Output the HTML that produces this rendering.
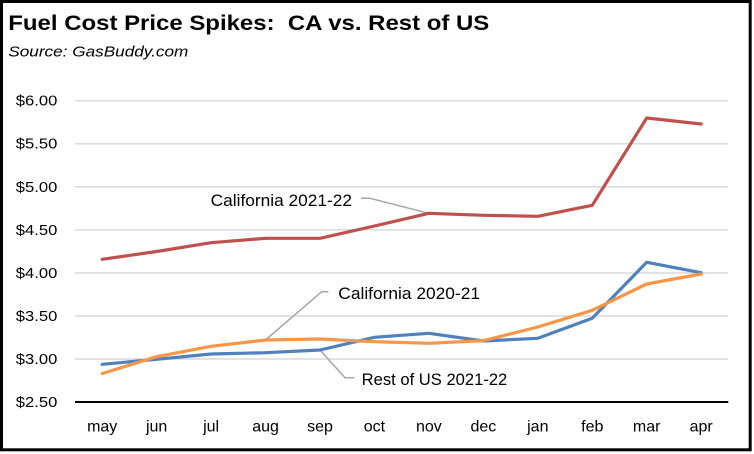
<!DOCTYPE html>
<html><head><meta charset="utf-8"><style>
html,body{margin:0;padding:0;background:#fff;}
svg{display:block;}
text{font-family:"Liberation Sans",Arial,sans-serif;fill:#000;}
</style></head><body>
<svg width="754" height="454" viewBox="0 0 754 454" xmlns="http://www.w3.org/2000/svg">
<rect x="0" y="0" width="754" height="454" fill="#fff"/>
<rect x="1.5" y="1.5" width="748.7" height="448.3" fill="none" stroke="#000" stroke-width="3"/>
<text x="8.3" y="30" font-size="21.5" font-weight="bold" textLength="481" lengthAdjust="spacingAndGlyphs">Fuel Cost Price Spikes:&#160; CA vs. Rest of US</text>
<text x="8.3" y="56.5" font-size="15" font-style="italic" textLength="180" lengthAdjust="spacingAndGlyphs">Source: GasBuddy.com</text>
<g stroke="#d9d9d9" stroke-width="1.5">
<line x1="75" y1="100.7" x2="728" y2="100.7"/>
<line x1="75" y1="143.7" x2="728" y2="143.7"/>
<line x1="75" y1="186.8" x2="728" y2="186.8"/>
<line x1="75" y1="229.9" x2="728" y2="229.9"/>
<line x1="75" y1="273" x2="728" y2="273"/>
<line x1="75" y1="316" x2="728" y2="316"/>
<line x1="75" y1="359" x2="728" y2="359"/>
</g>
<line x1="75" y1="402" x2="728.3" y2="402" stroke="#000" stroke-width="2"/>
<g font-size="14.5" text-anchor="end">
<text x="57.3" y="105.7" textLength="41.5" lengthAdjust="spacingAndGlyphs">$6.00</text>
<text x="57.3" y="148.7" textLength="41.5" lengthAdjust="spacingAndGlyphs">$5.50</text>
<text x="57.3" y="191.8" textLength="41.5" lengthAdjust="spacingAndGlyphs">$5.00</text>
<text x="57.3" y="234.9" textLength="41.5" lengthAdjust="spacingAndGlyphs">$4.50</text>
<text x="57.3" y="278" textLength="41.5" lengthAdjust="spacingAndGlyphs">$4.00</text>
<text x="57.3" y="321" textLength="41.5" lengthAdjust="spacingAndGlyphs">$3.50</text>
<text x="57.3" y="364" textLength="41.5" lengthAdjust="spacingAndGlyphs">$3.00</text>
<text x="57.3" y="407" textLength="41.5" lengthAdjust="spacingAndGlyphs">$2.50</text>
</g>
<g font-size="16" text-anchor="middle">
<text x="102.2" y="431.5">may</text>
<text x="156.65" y="431.5">jun</text>
<text x="211.1" y="431.5">jul</text>
<text x="265.55" y="431.5">aug</text>
<text x="320" y="431.5">sep</text>
<text x="374.45" y="431.5">oct</text>
<text x="428.9" y="431.5">nov</text>
<text x="483.35" y="431.5">dec</text>
<text x="537.8" y="431.5">jan</text>
<text x="592.25" y="431.5">feb</text>
<text x="646.7" y="431.5">mar</text>
<text x="701.15" y="431.5">apr</text>
</g>
<g fill="none" stroke="#a6a6a6" stroke-width="1.5">
<polyline points="361,198.3 370,198.3 428.9,213.3"/>
<polyline points="328.3,291.7 321.7,291.7 265.5,340"/>
<polyline points="320,350 345,377.7 354.3,377.7"/>
</g>
<g fill="none" stroke-width="3.2" stroke-linejoin="round" stroke-linecap="round">
<polyline stroke="#c0504d" points="102.2,259.3 156.65,251.5 211.1,242.7 265.55,238.3 320,238.3 374.45,226 428.9,213.3 483.35,215.3 537.8,216.3 592.25,205.3 646.7,118 701.15,124"/>
<polyline stroke="#4f81bd" points="102.2,364.3 156.65,359.3 211.1,354 265.55,352.7 320,350 374.45,337.3 428.9,333.3 483.35,341 537.8,338.3 592.25,318.3 646.7,262.3 701.15,272.7"/>
<polyline stroke="#f79646" points="102.2,373.5 156.65,356.7 211.1,346.3 265.55,340 320,339 374.45,341.7 428.9,343.3 483.35,340.7 537.8,327 592.25,310.3 646.7,284 701.15,274"/>
</g>
<g font-size="16.5">
<text x="210.7" y="206" textLength="141.3" lengthAdjust="spacingAndGlyphs">California 2021-22</text>
<text x="338.3" y="299" textLength="141.7" lengthAdjust="spacingAndGlyphs">California 2020-21</text>
<text x="361.7" y="385" textLength="145.6" lengthAdjust="spacingAndGlyphs">Rest of US 2021-22</text>
</g>
</svg>
</body></html>
